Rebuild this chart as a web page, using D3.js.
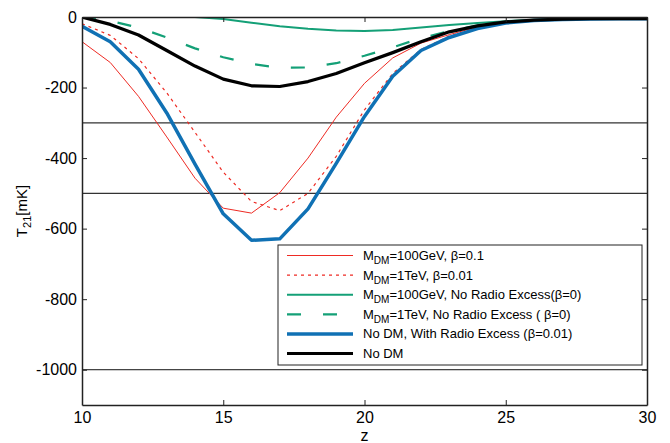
<!DOCTYPE html>
<html>
<head>
<meta charset="utf-8">
<script src="https://cdn.jsdelivr.net/npm/d3@7"></script>
<style>
  body { margin: 0; background: #fff; }
  text { font-family: "Liberation Sans", Arial, Helvetica, sans-serif; }
</style>
</head>
<body>
<script>
// redshift grid
var zs = [10, 11, 12, 13, 14, 15, 16, 17, 18, 19, 20, 21, 22, 23, 24, 25, 26, 27, 28, 29, 30];

// T21 [mK] for each case
var dm100Beta01 = [-70, -129, -225, -340, -457, -542, -556, -498, -400, -284, -188, -116, -74, -50, -28, -15, -9, -6, -5, -5, -5];
var dm1TeVBeta001 = [-19, -52, -118, -215, -327, -440, -523, -549, -500, -395, -263, -160, -92, -54, -30, -16, -9, -6, -5, -5, -5];
var zsNoRadio100 = [14, 15, 16, 17, 18, 19, 20, 21, 22, 23, 24, 25, 26, 27, 28, 29, 30];
var dm100NoRadio = [0, -6, -16, -26, -33, -38, -40, -37, -30, -23, -17, -12, -8, -6, -5, -4, -4];
var dm1TeVNoRadio = [0, -11, -30, -58, -89, -114, -133, -144, -143, -131, -110, -86, -60, -40, -24, -14, -9, -6, -5, -5, -5];
var noDmRadio = [-26, -70, -148, -272, -417, -558, -633, -629, -544, -415, -282, -168, -95, -58, -33, -17, -10, -7, -6, -5, -5];
var noDm = [0, -21, -51, -95, -139, -176, -195, -197, -183, -160, -130, -101, -70, -42, -25, -14, -9, -6, -5, -5, -5];

var xTicks = [10, 15, 20, 25, 30];
var yTicks = [0, -200, -400, -600, -800, -1000];
var refLines = [-300, -500, -1000];

var series = [
  { label: "M_DM=100GeV, β=0.1", x: zs, y: dm100Beta01, color: "#ee2b24", width: 1, dash: null },
  { label: "M_DM=1TeV, β=0.01", x: zs, y: dm1TeVBeta001, color: "#ee2b24", width: 1.2, dash: "3,4" },
  { label: "M_DM=100GeV, No Radio Excess(β=0)", x: zsNoRadio100, y: dm100NoRadio, color: "#14a077", width: 2, dash: null },
  { label: "M_DM=1TeV, No Radio Excess ( β=0)", x: zs, y: dm1TeVNoRadio, color: "#14a077", width: 2.2, dash: "14,22" },
  { label: "No DM, With Radio Excess (β=0.01)", x: zs, y: noDmRadio, color: "#1071b4", width: 3.5, dash: null },
  { label: "No DM", x: zs, y: noDm, color: "#000", width: 3.2, dash: null }
];

var W = 670, H = 443;
var margin = { left: 82, right: 23, top: 17, bottom: 38 };

var svg = d3.select("body").append("svg")
  .attr("width", W)
  .attr("height", H);

var x = d3.scaleLinear().domain([10, 30]).range([margin.left, W - margin.right]);
var y = d3.scaleLinear().domain([-1100, 0]).range([H - margin.bottom, margin.top]);

svg.append("clipPath").attr("id", "plotclip")
  .append("rect")
  .attr("x", x(10)).attr("y", y(0))
  .attr("width", x(30) - x(10)).attr("height", y(-1100) - y(0));

// horizontal reference lines
svg.selectAll(".ref").data(refLines).enter().append("line")
  .attr("class", "ref")
  .attr("x1", x(10)).attr("x2", x(30))
  .attr("y1", function (d) { return y(d); })
  .attr("y2", function (d) { return y(d); })
  .attr("stroke", function (d) { return d === -1000 ? "#111" : "#333"; })
  .attr("stroke-width", function (d) { return d === -1000 ? 1 : 1.3; });

var line = d3.line()
  .x(function (d) { return x(d[0]); })
  .y(function (d) { return y(d[1]); });

var plot = svg.append("g").attr("clip-path", "url(#plotclip)");
series.forEach(function (s) {
  var pts = s.x.map(function (v, i) { return [v, s.y[i]]; });
  plot.append("path")
    .attr("d", line(pts))
    .attr("fill", "none")
    .attr("stroke", s.color)
    .attr("stroke-width", s.width)
    .attr("stroke-dasharray", s.dash)
    .attr("stroke-linejoin", "round");
});

// axes: box with inward ticks on all sides
var tickLen = 5;
var plain = function (d) { return String(d); };
svg.append("g")
  .attr("transform", "translate(0," + y(-1100) + ")")
  .call(d3.axisBottom(x).tickValues(xTicks).tickFormat(plain).tickSizeInner(-tickLen).tickSizeOuter(0).tickPadding(7));
svg.append("g")
  .attr("transform", "translate(0," + y(0) + ")")
  .call(d3.axisTop(x).tickValues(xTicks).tickSizeInner(-tickLen).tickSizeOuter(0).tickFormat(""));
svg.append("g")
  .attr("transform", "translate(" + x(10) + ",0)")
  .call(d3.axisLeft(y).tickValues(yTicks).tickFormat(plain).tickSizeInner(-tickLen).tickSizeOuter(0).tickPadding(5));
svg.append("g")
  .attr("transform", "translate(" + x(30) + ",0)")
  .call(d3.axisRight(y).tickValues(yTicks).tickSizeInner(-tickLen).tickSizeOuter(0).tickFormat(""));

svg.selectAll(".domain").attr("stroke", "#222").attr("stroke-width", 1.5);
svg.selectAll(".tick line").attr("stroke", "#222");
svg.selectAll(".tick text")
  .attr("font-size", 16)
  .attr("fill", "#000")
  .style("font-family", "'Liberation Sans', Arial, sans-serif");

// axis titles
svg.append("text")
  .attr("x", (x(10) + x(30)) / 2)
  .attr("y", 441)
  .attr("text-anchor", "middle")
  .attr("font-size", 16)
  .text("z");

var yl = svg.append("text")
  .attr("transform", "translate(27," + ((y(0) + y(-1100)) / 2) + ") rotate(-90)")
  .attr("text-anchor", "middle")
  .attr("font-size", 15);
yl.append("tspan").text("T");
yl.append("tspan").attr("font-size", 11).attr("dy", 4).text("21");
yl.append("tspan").attr("dy", -4).text("[mK]");

// legend
var lg = svg.append("g").attr("transform", "translate(278,245)");
lg.append("rect")
  .attr("width", 364).attr("height", 120)
  .attr("fill", "#fff").attr("stroke", "#222").attr("stroke-width", 1);

series.forEach(function (s, i) {
  var cy = 10.5 + i * 19.6;
  lg.append("line")
    .attr("x1", 9).attr("x2", 75)
    .attr("y1", cy).attr("y2", cy)
    .attr("stroke", s.color)
    .attr("stroke-width", s.width)
    .attr("stroke-dasharray", s.dash);
  var t = lg.append("text")
    .attr("x", 85).attr("y", cy + 4.5)
    .attr("font-size", 13);
  var m = s.label.match(/^M_DM(.*)$/);
  if (m) {
    t.append("tspan").text("M");
    t.append("tspan").attr("font-size", 10).attr("dy", 4).text("DM");
    t.append("tspan").attr("dy", -4).text(m[1]);
  } else {
    t.text(s.label);
  }
});
</script>
</body>
</html>
